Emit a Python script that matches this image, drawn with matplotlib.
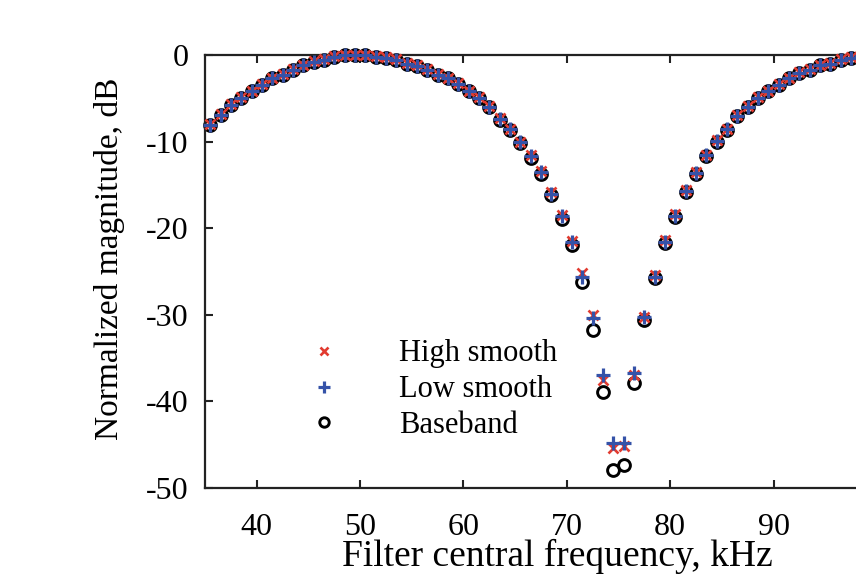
import matplotlib
matplotlib.use('Agg')
import matplotlib.pyplot as plt
from matplotlib.ticker import MultipleLocator

plt.rcParams['font.family'] = ['Liberation Serif', 'DejaVu Serif']
plt.rcParams['axes.unicode_minus'] = False

# filter central frequencies, kHz
freq = [35.5, 36.5, 37.5, 38.5, 39.5, 40.5, 41.5, 42.5, 43.5, 44.5,
        45.5, 46.5, 47.5, 48.5, 49.5, 50.5, 51.5, 52.5, 53.5, 54.5,
        55.5, 56.5, 57.5, 58.5, 59.5, 60.5, 61.5, 62.5, 63.5, 64.5,
        65.5, 66.5, 67.5, 68.5, 69.5, 70.5, 71.5, 72.5, 73.5, 74.5,
        75.5, 76.5, 77.5, 78.5, 79.5, 80.5, 81.5, 82.5, 83.5, 84.5,
        85.5, 86.5, 87.5, 88.5, 89.5, 90.5, 91.5, 92.5, 93.5, 94.5,
        95.5, 96.5, 97.5, 98.5, 99.5]

# normalized magnitude, dB
baseband = [-8.1, -6.9, -5.8, -5.0, -4.2, -3.5, -2.7, -2.3, -1.7, -1.2,
            -0.8, -0.6, -0.2, 0.0, 0.0, 0.0, -0.2, -0.3, -0.6, -1.0,
            -1.3, -1.7, -2.3, -2.7, -3.3, -4.2, -5.0, -6.0, -7.5, -8.7,
            -10.2, -11.9, -13.7, -16.2, -18.9, -21.9, -26.2, -31.8, -38.9, -47.9,
            -47.4, -37.9, -30.6, -25.8, -21.7, -18.7, -15.8, -13.7, -11.7, -10.0,
            -8.7, -7.1, -6.0, -5.0, -4.2, -3.5, -2.7, -2.1, -1.7, -1.2,
            -1.0, -0.6, -0.3, -0.1, 0.0]

high_smooth = [-8.0, -6.8, -5.7, -4.9, -4.1, -3.4, -2.6, -2.2, -1.6, -1.1,
               -0.7, -0.5, -0.1, 0.0, 0.0, 0.0, -0.1, -0.2, -0.5, -0.9,
               -1.2, -1.6, -2.2, -2.6, -3.2, -4.1, -4.9, -5.9, -7.3, -8.5,
               -10.0, -11.6, -13.4, -15.8, -18.5, -21.5, -25.2, -30.0, -37.5, -45.4,
               -45.2, -37.0, -30.2, -25.4, -21.4, -18.4, -15.6, -13.5, -11.5, -9.8,
               -8.5, -6.9, -5.9, -4.9, -4.1, -3.4, -2.6, -2.0, -1.6, -1.1,
               -0.9, -0.5, -0.2, 0.0, 0.0]

low_smooth = [-8.1, -6.9, -5.8, -5.0, -4.2, -3.5, -2.7, -2.3, -1.7, -1.2,
              -0.8, -0.6, -0.2, 0.0, 0.0, 0.0, -0.2, -0.3, -0.6, -1.0,
              -1.3, -1.7, -2.3, -2.7, -3.3, -4.2, -5.0, -6.0, -7.4, -8.6,
              -10.1, -11.7, -13.5, -16.0, -18.6, -21.6, -25.6, -30.4, -37.0, -44.8,
              -44.8, -36.7, -30.2, -25.6, -21.6, -18.6, -15.7, -13.6, -11.6, -9.9,
              -8.6, -7.0, -6.0, -5.0, -4.2, -3.5, -2.7, -2.1, -1.7, -1.2,
              -1.0, -0.6, -0.3, -0.1, 0.0]

fig = plt.figure(figsize=(8.56, 5.83), dpi=100)
# right edge of the axes sits past the figure edge, as in the cropped original
ax = fig.add_axes([205 / 856, 95 / 583, 672 / 856, 433 / 583])

ax.plot(freq, high_smooth, 'x', color='#e23b30', markersize=7, markeredgewidth=1.9,
        label='High smooth', clip_on=False, zorder=3)
ax.plot(freq, low_smooth, '+', color='#3552a8', markersize=10, markeredgewidth=2.3,
        label='Low smooth', clip_on=False, zorder=4)
ax.plot(freq, baseband, 'o', markerfacecolor='none', markeredgecolor='black',
        markersize=8.5, markeredgewidth=2.1, label='Baseband', clip_on=False, zorder=2)

ax.set_xlim(35, 100)
ax.set_ylim(-50, 0)
ax.xaxis.set_major_locator(MultipleLocator(10))
ax.yaxis.set_major_locator(MultipleLocator(10))

for sp in ax.spines.values():
    sp.set_linewidth(1.6)
    sp.set_color('#222222')

ax.tick_params(axis='both', direction='in', top=True, right=True, length=6, width=1.5,
               color='#222222', labelsize=23)
ax.tick_params(axis='x', pad=18)
ax.tick_params(axis='y', pad=12)

ax.set_xlabel('Filter central frequency, kHz', fontsize=27)
ax.set_ylabel('Normalized magnitude, dB', fontsize=24)
ax.xaxis.set_label_coords(0.524, -0.118)
ax.yaxis.set_label_coords(-0.119, 0.529)

leg = ax.legend(loc='upper left', bbox_to_anchor=(0.155, 0.343), frameon=False,
                fontsize=22, handlelength=1.0, handletextpad=1.95, labelspacing=0.22,
                borderpad=0, borderaxespad=0, markerscale=0.8)

fig.savefig('out.png', dpi=100)
